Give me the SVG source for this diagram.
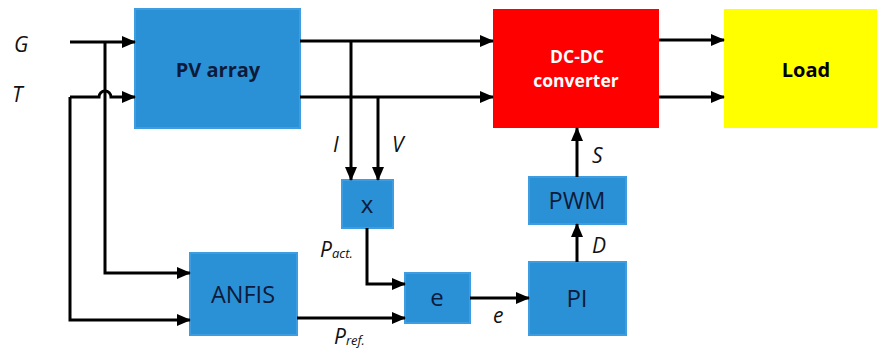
<svg xmlns="http://www.w3.org/2000/svg" width="877" height="349" viewBox="0 0 877 349">
<style>
.blue{fill:#2b91d6;stroke:#3d9de0;stroke-width:2}
.lbl{font-family:"Open Sans","Liberation Sans",sans-serif;fill:#0d1b3a;text-anchor:middle}
.bold{font-weight:bold}
.it{font-family:"Open Sans","Liberation Sans",sans-serif;font-style:italic;fill:#111;font-size:21px}
.ln{fill:none;stroke:#000;stroke-width:3}
.ar{marker-end:url(#ah)}
</style>
<defs>
<marker id="ah" markerUnits="userSpaceOnUse" markerWidth="14" markerHeight="12" refX="13" refY="6" orient="auto">
<path d="M0,0 L14,6 L0,12 z" fill="#000"/>
</marker>
</defs>
<rect width="877" height="349" fill="#fff"/>
<g id="pv"><rect class="blue" x="135" y="9" width="165" height="119"/><text class="lbl bold" x="218" y="77" font-size="20">PV array</text></g>
<g id="dcdc"><rect x="493" y="9" width="166" height="119" fill="#ff0000"/><text class="lbl bold" x="577" y="63" font-size="17.5" style="fill:#fff">DC-DC</text><text class="lbl bold" x="576" y="87" font-size="17.5" style="fill:#fff">converter</text></g>
<g id="load"><rect x="724" y="9" width="160" height="119" fill="#ffff00"/><text class="lbl bold" x="806" y="77" font-size="20" style="fill:#000">Load</text></g>
<g id="mult"><rect class="blue" x="342" y="180" width="51" height="48"/><text class="lbl" x="367" y="213" font-size="24">x</text></g>
<g id="err"><rect class="blue" x="405" y="273" width="65" height="50"/><text class="lbl" x="437" y="306" font-size="24">e</text></g>
<g id="pi"><rect class="blue" x="529" y="262" width="97" height="73"/><text class="lbl" x="577" y="307" font-size="24">PI</text></g>
<g id="pwm"><rect class="blue" x="529" y="177" width="97" height="47"/><text class="lbl" x="577" y="209" font-size="23.5">PWM</text></g>
<g id="anfis"><rect class="blue" x="190" y="253" width="107" height="82"/><text class="lbl" x="243" y="303" font-size="23.5">ANFIS</text></g>
<g id="connectors">
<path class="ln ar" d="M70,42 H135"/>
<path class="ln ar" d="M70,97 H99 A6,6 0 0 1 111,97 H135"/>
<path class="ln ar" d="M105,42 V273 H190"/>
<path class="ln ar" d="M70,97 V320 H190"/>
<path class="ln ar" d="M300,41 H493"/>
<path class="ln ar" d="M300,97 H493"/>
<path class="ln ar" d="M659,40 H724"/>
<path class="ln ar" d="M659,97 H724"/>
<path class="ln ar" d="M351,41 V180"/>
<path class="ln ar" d="M378,97 V180"/>
<path class="ln ar" d="M367,228 V284 H405"/>
<path class="ln ar" d="M297,318 H405"/>
<path class="ln ar" d="M470,298 H529"/>
<path class="ln ar" d="M577,262 V224"/>
<path class="ln ar" d="M577,177 V128"/>
</g>
<g id="labels">
<text class="it" x="14" y="52">G</text>
<text class="it" x="12" y="102">T</text>
<text class="it" x="333" y="152">I</text>
<text class="it" x="392" y="152">V</text>
<text class="it" x="320" y="257">P<tspan font-size="13" dy="1">act.</tspan></text>
<text class="it" x="334" y="344">P<tspan font-size="13" dy="1">ref.</tspan></text>
<text class="it" x="493" y="323">e</text>
<text class="it" x="592" y="163">S</text>
<text class="it" x="592" y="253">D</text>
</g>
</svg>
